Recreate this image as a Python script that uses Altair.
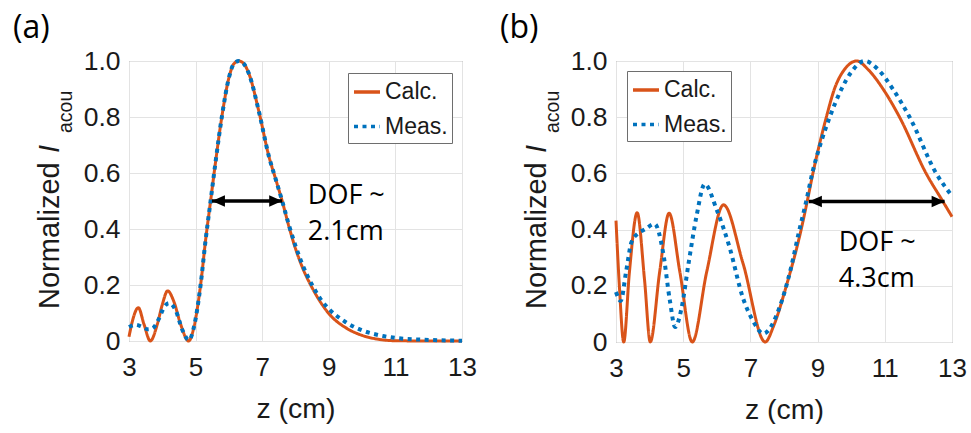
import altair as alt
import pandas as pd

# ---------------- data ----------------
# Panel (a)
z_calc_a = [3.0, 3.1, 3.28, 3.45, 3.64, 3.85, 4.0, 4.16, 4.35, 4.55, 4.79, 4.95, 5.15, 5.3,
            5.45, 5.6, 5.8, 6.0, 6.15, 6.3, 6.45, 6.6, 6.9, 7.2, 7.4, 7.6, 7.8, 8.0, 8.2, 8.5,
            8.8, 9.0, 9.5, 10.0, 10.5, 11.0, 12.0, 13.0]
v_calc_a = [0.015, 0.07, 0.119, 0.06, 0.0, 0.06, 0.13, 0.179, 0.14, 0.06, 0.0, 0.05, 0.2, 0.36,
            0.5, 0.64, 0.81, 0.94, 0.99, 1.0, 0.99, 0.955, 0.82, 0.66, 0.58, 0.5, 0.41, 0.33, 0.265, 0.19,
            0.13, 0.098, 0.048, 0.02, 0.006, 0.001, 0.0, 0.0]
z_meas_a = [3.0, 3.2, 3.4, 3.55, 3.7, 3.9, 4.05, 4.2, 4.4, 4.6, 4.8, 4.95, 5.15, 5.3,
            5.45, 5.6, 5.8, 6.0, 6.15, 6.3, 6.45, 6.6, 6.9, 7.2, 7.4, 7.6, 7.8, 8.0, 8.2, 8.5,
            8.8, 9.0, 9.5, 10.0, 10.5, 11.0, 12.0, 13.0]
v_meas_a = [0.05, 0.058, 0.05, 0.042, 0.045, 0.08, 0.12, 0.135, 0.11, 0.04, 0.003, 0.05, 0.2, 0.36,
            0.5, 0.64, 0.81, 0.94, 0.99, 1.0, 0.99, 0.955, 0.82, 0.66, 0.58, 0.5, 0.415, 0.34, 0.275, 0.2,
            0.142, 0.115, 0.068, 0.038, 0.021, 0.011, 0.004, 0.001]

# Panel (b)
z_calc_b = [3.0, 3.1, 3.23, 3.4, 3.63, 3.85, 4.02, 4.3, 4.58, 4.9, 5.27, 5.7, 6.2, 6.78, 7.44,
            7.7, 8.07, 8.51, 8.69, 8.86, 9.26, 9.5, 9.8, 10.17, 10.5, 10.95, 11.44, 12.23, 12.73, 13.0]
v_calc_b = [0.432, 0.2, 0.0, 0.25, 0.46, 0.22, 0.0, 0.25, 0.458, 0.25, 0.0, 0.25, 0.488, 0.28, 0.0,
            0.06, 0.2, 0.4, 0.5, 0.6, 0.8, 0.9, 0.97, 1.0, 0.97, 0.9, 0.8, 0.6, 0.5, 0.446]
z_meas_b = [3.0, 3.14, 3.3, 3.46, 3.65, 3.85, 4.15, 4.4, 4.6, 4.76, 4.95, 5.16, 5.4, 5.64, 6.0,
            6.38, 6.77, 7.1, 7.38, 7.87, 8.2, 8.46, 8.66, 8.84, 9.1, 9.36, 9.71, 10.0, 10.4, 10.8,
            11.24, 11.74, 12.53, 13.0]
v_meas_b = [0.178, 0.146, 0.25, 0.355, 0.386, 0.4, 0.42, 0.32, 0.15, 0.053, 0.12, 0.28, 0.45, 0.562, 0.47,
            0.337, 0.16, 0.07, 0.03, 0.124, 0.26, 0.4, 0.5, 0.6, 0.71, 0.8, 0.9, 0.96, 1.0, 0.97,
            0.9, 0.8, 0.6, 0.52]

series_names = ["Calc.", "Meas."]
series_colors = ["#D95319", "#0072BD"]

arrow_a = [5.49, 7.60]
arrow_b = [8.74, 12.78]
arrow_level = 0.5

dof_lines_a = ["DOF ~", "2.1cm"]
dof_lines_b = ["DOF ~", "4.3cm"]
dof_z_a, dof_v_a = 8.37, [0.489, 0.36]
dof_z_b, dof_v_b = 9.63, [0.323, 0.195]

x_ticks = [3, 5, 7, 9, 11, 13]
y_ticks = [0, 0.2, 0.4, 0.6, 0.8, 1.0]
panel_labels = ["(a)", "(b)"]
ytitle_parts = ["Normalized", "I", "acou"]
x_title = "z (cm)"

ARIAL = "Liberation Sans"
TXT = "#1a1a1a"


def panel(label, zc, vc, zm, vm, arrow, dof_lines, dof_z, dof_v, w, h, lx, ly):
    df = pd.concat([
        pd.DataFrame({"z": zc, "v": vc, "series": series_names[0]}),
        pd.DataFrame({"z": zm, "v": vm, "series": series_names[1]}),
    ], ignore_index=True)

    x = alt.X("z:Q", scale=alt.Scale(domain=[3, 13], nice=False, zero=False),
              axis=alt.Axis(values=x_ticks, title=x_title, grid=True, ticks=False,
                            domain=False, labelFontSize=26, labelFont=ARIAL,
                            labelColor=TXT, labelPadding=13, titleFontSize=28.5,
                            titleFont=ARIAL, titleFontWeight="normal", titleColor=TXT,
                            titlePadding=14, gridColor="#e3e3e3", labelFlush=False))
    y = alt.Y("v:Q", scale=alt.Scale(domain=[0, 1], nice=False),
              axis=alt.Axis(values=y_ticks, title=None, grid=True, ticks=False, domain=False,
                            labelFontSize=26.5, labelFont=ARIAL, labelColor=TXT,
                            labelPadding=9, gridColor="#e3e3e3", labelFlush=False,
                            labelExpr="datum.value == 0 ? '0' : format(datum.value, '.1f')"))

    leg = alt.Legend(orient="none", legendX=lx, legendY=ly, title=None, fillColor="white",
                     strokeColor="#6e6e6e", padding=4, labelFontSize=23, labelFont=ARIAL,
                     labelColor=TXT, symbolType="stroke", symbolSize=676,
                     symbolStrokeWidth=3.5, rowPadding=7.5, labelOffset=3, cornerRadius=0)

    lines = alt.Chart(df).mark_line(interpolate="monotone", strokeCap="butt").encode(
        x=x, y=y,
        color=alt.Color("series:N", scale=alt.Scale(domain=series_names, range=series_colors),
                        legend=leg),
        strokeDash=alt.StrokeDash("series:N",
                                  scale=alt.Scale(domain=series_names, range=[[1, 0], [4, 4.5]]),
                                  legend=leg),
        strokeWidth=alt.StrokeWidth("series:N",
                                    scale=alt.Scale(domain=series_names, range=[3, 4]),
                                    legend=None),
        order=alt.Order("series:N"),
    )

    adf = pd.DataFrame({"z": arrow, "v": [arrow_level, arrow_level], "end": ["left", "right"]})
    shaft = alt.Chart(adf).mark_line(color="black", strokeWidth=3.5).encode(x="z:Q", y="v:Q")
    heads = alt.Chart(adf).mark_point(filled=True, opacity=1, color="black", size=676,
                                      strokeWidth=0).encode(
        x="z:Q", y="v:Q",
        shape=alt.Shape("end:N", scale=alt.Scale(domain=["left", "right"],
                                                   range=["M0,0L1,-0.45L1,0.45Z",
                                                          "M0,0L-1,-0.45L-1,0.45Z"]),
                        legend=None))

    tdf = pd.DataFrame({"z": [dof_z, dof_z], "v": dof_v, "t": dof_lines})
    dof = alt.Chart(tdf).mark_text(font="Open Sans", fontSize=27, align="left",
                                   baseline="alphabetic", color="black").encode(
        x="z:Q", y="v:Q", text="t:N")

    lab = alt.Chart(pd.DataFrame({"t": [label]})).mark_text(
        font="Open Sans", fontSize=32, align="left", baseline="alphabetic", color="black"
    ).encode(x=alt.value(-116), y=alt.value(-23), text="t:N")

    t1 = alt.Chart(pd.DataFrame({"t": [ytitle_parts[0]]})).mark_text(
        font=ARIAL, fontSize=29, angle=270, align="left", baseline="alphabetic", color=TXT
    ).encode(x=alt.value(-70), y=alt.value(248), text="t:N")
    t2 = alt.Chart(pd.DataFrame({"t": [ytitle_parts[1]]})).mark_text(
        font=ARIAL, fontSize=29, fontStyle="italic", angle=270, align="left",
        baseline="alphabetic", color=TXT
    ).encode(x=alt.value(-70), y=alt.value(92), text="t:N")
    t3 = alt.Chart(pd.DataFrame({"t": [ytitle_parts[2]]})).mark_text(
        font=ARIAL, fontSize=19.5, angle=270, align="left", baseline="alphabetic", color=TXT
    ).encode(x=alt.value(-57), y=alt.value(72), text="t:N")

    return alt.layer(lines, shaft, heads, dof, lab, t1, t2, t3).properties(width=w, height=h)


pa = panel(panel_labels[0], z_calc_a, v_calc_a, z_meas_a, v_meas_a, arrow_a, dof_lines_a,
           dof_z_a, dof_v_a, 333, 280, 219, 12)
pb = panel(panel_labels[1], z_calc_b, v_calc_b, z_meas_b, v_meas_b, arrow_b, dof_lines_b,
           dof_z_b, dof_v_b, 336, 281, 11, 10)

chart = alt.hconcat(pa, pb, spacing=22).resolve_legend(
    color="independent", strokeDash="independent"
).resolve_scale(color="independent", strokeDash="independent").properties(
    padding={"left": 12, "top": 11, "right": 0, "bottom": 0}, background="white"
).configure_view(stroke="#808080", strokeWidth=1)

chart.save("out.html", embed_options={"renderer": "svg", "actions": False})
